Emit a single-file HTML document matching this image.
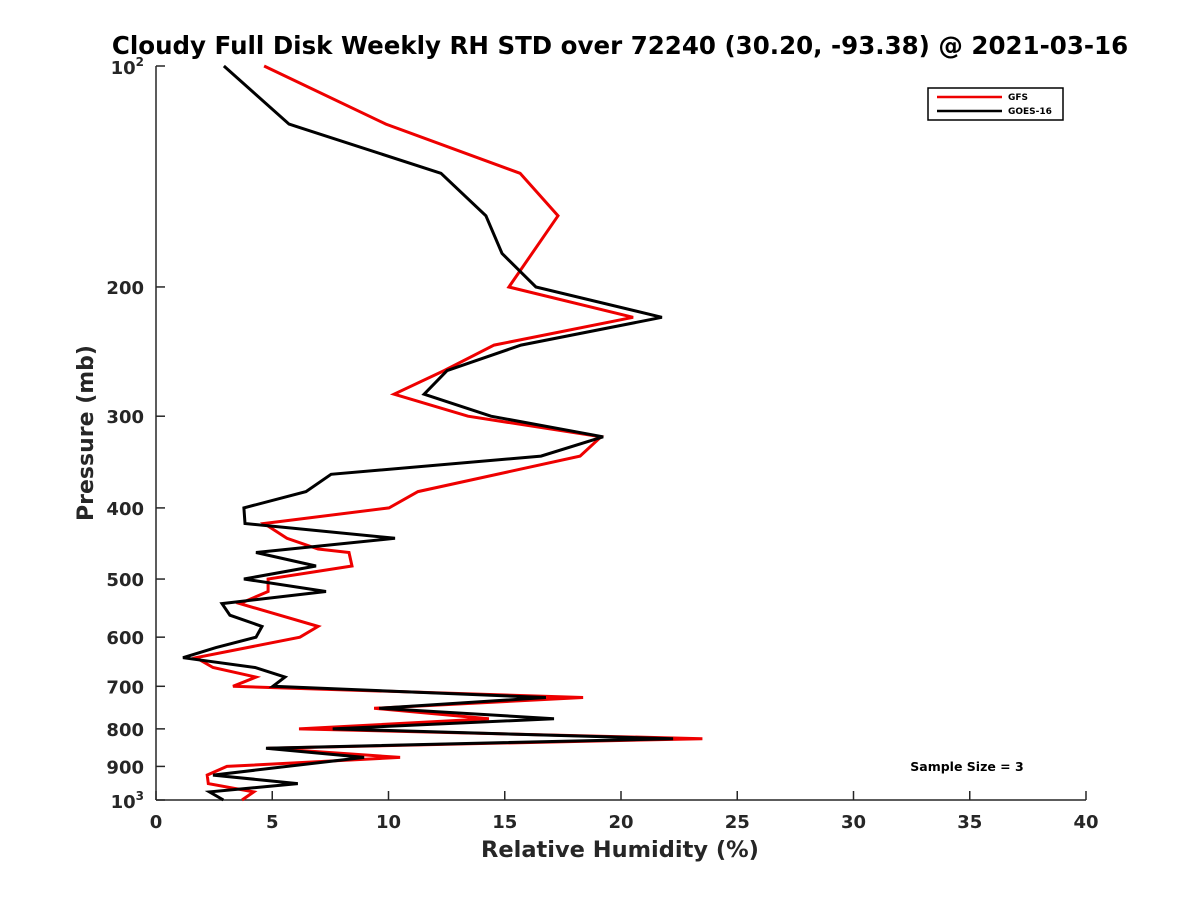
<!DOCTYPE html>
<html><head><meta charset="utf-8"><style>
body{margin:0;background:#fff;}
svg text{font-family:"DejaVu Sans","Liberation Sans",sans-serif;font-weight:bold;fill:#262626;}
</style></head><body>
<svg id="chart" width="1200" height="900">
<text x="620" y="54" text-anchor="middle" font-size="24.5" style="fill:#000">Cloudy Full Disk Weekly RH STD over 72240 (30.20, -93.38) @ 2021-03-16</text>
<g id="axes"></g>
<g id="series"></g>
<g>
<rect x="928" y="88" width="135" height="32" fill="#fff" stroke="#000" stroke-width="1.5"/>
<line x1="937" y1="97" x2="1002" y2="97" stroke="#e00" stroke-width="2.5"/>
<text x="1008" y="100" font-size="9" style="fill:#000">GFS</text>
<line x1="937" y1="111" x2="1002" y2="111" stroke="#000" stroke-width="2.5"/>
<text x="1008" y="114" font-size="9" style="fill:#000">GOES-16</text>
</g>
<text x="967" y="771" text-anchor="middle" font-size="12.5" style="fill:#000">Sample Size = 3</text>
<text x="620" y="857" text-anchor="middle" font-size="22.5">Relative Humidity (%)</text>
<text transform="translate(93,433) rotate(-90)" text-anchor="middle" font-size="22">Pressure (mb)</text>
</svg>
<script>
const xTicks=[0,5,10,15,20,25,30,35,40];
const yTicks=[200,300,400,500,600,700,800,900];
const gfsP=[100,120,140,160,200,220,240,260,280,300,320,340,380,400,420,440,455,460,480,500,520,540,580,600,640,660,680,700,725,750,775,800,825,850,875,900,925,950,975,1000];
const gfsRH=[4.65,9.89,15.66,17.29,15.18,20.52,14.54,12.39,10.24,13.42,19.14,18.24,11.27,10.02,4.65,5.63,6.97,8.3,8.43,4.82,4.82,3.61,6.97,6.19,1.72,2.45,4.3,3.31,18.37,9.38,14.32,6.15,23.5,4.8,10.5,3.05,2.2,2.25,4.2,3.7];
const goesP=[100,120,140,160,180,200,220,240,260,280,300,320,340,360,380,400,420,440,460,480,500,520,540,560,580,600,620,640,660,680,700,725,750,775,800,825,850,875,925,950,975,1000];
const goesRH=[2.92,5.72,12.26,14.19,14.88,16.34,21.76,15.7,12.52,11.53,14.41,19.23,16.56,7.53,6.45,3.78,3.83,10.28,4.3,6.88,3.78,7.31,2.84,3.18,4.56,4.3,2.58,1.16,4.26,5.55,5.03,16.77,9.6,17.12,7.6,22.24,4.73,8.95,2.45,6.1,2.3,2.9];
const X0=156,X1=1086,Y0=66,Y1=800;
const sx=v=>X0+(v-0)/40*(X1-X0);
const sy=p=>Y0+(Math.log10(p)-2)*(Y1-Y0);
const NS="http://www.w3.org/2000/svg";
function mk(t,a,parent){const e=document.createElementNS(NS,t);for(const k in a)e.setAttribute(k,a[k]);parent.appendChild(e);return e;}
const ax=document.getElementById('axes');
let l=mk('line',{x1:X0,y1:Y0,x2:X0,y2:Y1,stroke:'#262626','stroke-width':1.5},ax);


l=mk('line',{x1:X0,y1:Y1,x2:X1,y2:Y1,stroke:'#262626','stroke-width':1.5},ax);


xTicks.forEach(v=>{const x=sx(v);
 mk('line',{x1:x,y1:Y1,x2:x,y2:Y1-9,stroke:'#262626','stroke-width':1.5},ax);
 const t=mk('text',{x:x,y:Y1+28,'text-anchor':'middle','font-size':18},ax);t.textContent=v;
 
 });
yTicks.forEach(p=>{const y=sy(p);
 mk('line',{x1:X0,y1:y,x2:X0+9,y2:y,stroke:'#262626','stroke-width':1.5},ax);
 const t=mk('text',{x:X0-12,y:y+7,'text-anchor':'end','font-size':18},ax);t.textContent=p;
 
 });
[[100,'2'],[1000,'3']].forEach(([p,e])=>{const y=sy(p);
 mk('line',{x1:X0,y1:y,x2:X0+9,y2:y,stroke:'#262626','stroke-width':1.5},ax);
 const t=mk('text',{x:X0-12,y:y+8,'text-anchor':'end','font-size':18},ax);
 t.innerHTML='10<tspan dy="-8" font-size="12">'+e+'</tspan>';
 
 });
const sg=document.getElementById('series');
function line(P,R,c,name){const pts=P.map((p,i)=>sx(R[i]).toFixed(1)+','+sy(p).toFixed(1)).join(' ');
 const e=mk('polyline',{points:pts,fill:'none',stroke:c,'stroke-width':3,'stroke-linejoin':'miter'},sg);
 
 }
line(gfsP,gfsRH,'#e00','gfs-line');
line(goesP,goesRH,'#000','goes16-line');
</script>
</body></html>
